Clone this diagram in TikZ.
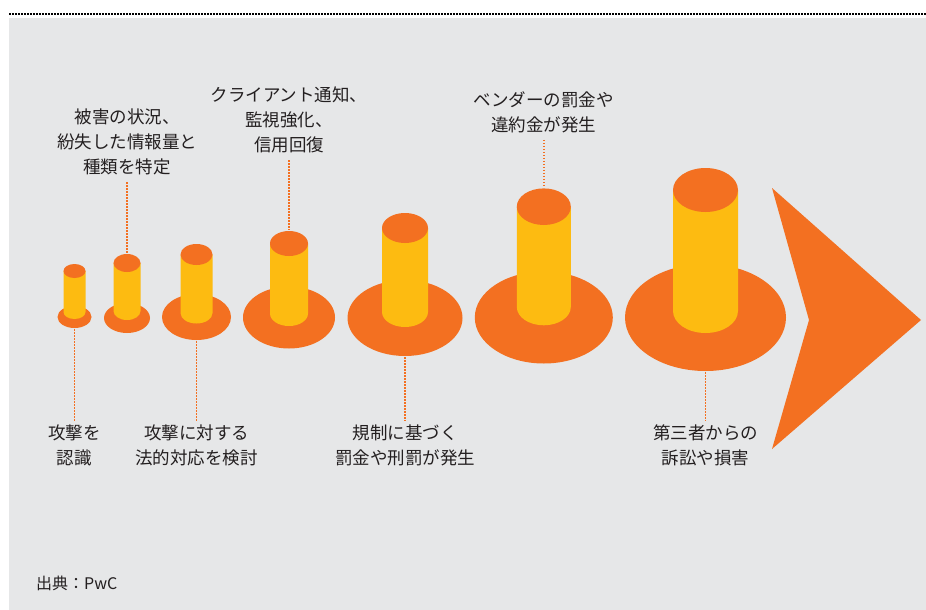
\documentclass[tikz,border=0pt]{standalone}
\usepackage{fontspec}
\newfontfamily\jp{Noto Sans CJK JP}
\definecolor{org}{HTML}{F37021}
\definecolor{yel}{HTML}{FDBB11}
\definecolor{bg}{HTML}{E6E7E8}
\definecolor{txt}{HTML}{231F20}
\tikzset{
  lbl/.style={align=center, inner sep=0pt, text=txt, font=\jp\fontsize{17.5}{25}\selectfont},
  dotline/.style={org, line width=1.7pt, dash pattern=on 1.5pt off 1.5pt},
}
% cylinder: x, base cy, base rx, base ry, top cy, bottom cy, rx, ry
\newcommand\mycyl[8]{%
  \fill[org] (#1,#2) ellipse [x radius=#3, y radius=#4];
  \fill[yel] (#1-#7,#5) -- (#1-#7,#6) arc[start angle=180, end angle=0, x radius=#7, y radius=#8] -- (#1+#7,#5) -- cycle;
  \fill[org] (#1,#5) ellipse [x radius=#7, y radius=#8];
}
\begin{document}
\begin{tikzpicture}[x=1pt, y=-1pt]
\useasboundingbox (0,0) rectangle (926,610);
\fill[white] (0,0) rectangle (926,610);
\fill[bg] (9,18) rectangle (926,610);
\draw[black, line width=1.5pt, dash pattern=on 1.5pt off 1.5pt] (9,14) -- (926,14);

% cylinders
\mycyl{74.5}{317}{17}{11}{271}{312}{11}{7}
\mycyl{127}{318}{23}{15}{263}{311}{13.5}{9}
\mycyl{196.5}{317}{34.5}{23}{254.5}{313}{16}{10.5}
\mycyl{289}{317.5}{46}{31}{243.5}{313.5}{19}{12.5}
\mycyl{405}{318}{57.5}{38}{228}{312}{23}{15}
\mycyl{543.8}{317.5}{69}{46}{206.7}{307}{27}{18.3}
\mycyl{705.5}{317.5}{80.5}{53.5}{190}{311}{32.5}{22}

% chevron
\fill[org] (772,188) -- (921,320) -- (772,449) -- (809,320) -- cycle;

% anchor coordinates
\coordinate (t2) at (127,253);
\coordinate (t4) at (289,230);
\coordinate (t6) at (543.8,187);
\coordinate (b1) at (74.5,329);
\coordinate (b3) at (196.5,341);
\coordinate (b5) at (405,357);
\coordinate (b7) at (705.5,372);

% labels
\node[lbl] (l2) at (127,142) {被害の状況、\\紛失した情報量と\\種類を特定};
\node[lbl] (l4) at (289,120) {クライアント通知、\\監視強化、\\信用回復};
\node[lbl] (l6) at (543.8,112) {ベンダーの罰金や\\違約金が発生};
\node[lbl] (l1) at (74.5,445.5) {攻撃を\\認識};
\node[lbl] (l3) at (196.5,445.5) {攻撃に対する\\法的対応を検討};
\node[lbl] (l5) at (405,445.5) {規制に基づく\\罰金や刑罰が発生};
\node[lbl] (l7) at (705.5,445.5) {第三者からの\\訴訟や損害};

\draw[dotline, shorten <=7pt] (l2.south) -- (t2);
\draw[dotline, shorten <=7pt] (l4.south) -- (t4);
\draw[dotline, shorten <=7pt] (l6.south) -- (t6);
\draw[dotline, shorten >=4pt] (b1) -- (l1.north);
\draw[dotline, shorten >=4pt] (b3) -- (l3.north);
\draw[dotline, shorten >=4pt] (b5) -- (l5.north);
\draw[dotline, shorten >=4pt] (b7) -- (l7.north);

\node[anchor=west, inner sep=0pt, text=txt, font=\jp\fontsize{16}{20}\selectfont] (src) at (36,583) {出典：PwC};
\end{tikzpicture}
\end{document}
